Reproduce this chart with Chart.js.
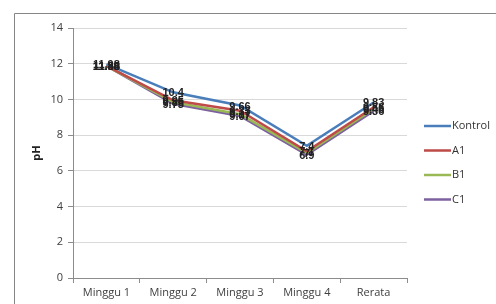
<!DOCTYPE html>
<html>
<head>
<meta charset="utf-8">
<script src="https://cdn.jsdelivr.net/npm/chart.js@4"></script>
<style>
  html, body { margin: 0; padding: 0; background: #fff; }
  #wrap { width: 496px; height: 304px; position: relative; }
</style>
</head>
<body>
<div id="wrap"><canvas id="chart" width="496" height="304"></canvas></div>
<script>
// data
const categories = ["Minggu 1", "Minggu 2", "Minggu 3", "Minggu 4", "Rerata"];
const kontrol = [11.98, 10.4, 9.66, 7.4, 9.83];
const a1 = [11.88, 9.95, 9.37, 7.1, 9.56];
const b1 = [11.88, 9.85, 9.17, 7.0, 9.46];
const c1 = [11.88, 9.75, 9.07, 6.9, 9.36];
const seriesNames = ["Kontrol", "A1", "B1", "C1"];
const colors = ["#4a7ebb", "#be4b48", "#98b954", "#7d60a0"];
const yTicks = [0, 2, 4, 6, 8, 10, 12, 14];

const FONT = "'Open Sans', 'Liberation Sans', sans-serif";

// outer frame of the chart object
const framePlugin = {
  id: "frame",
  afterDraw(chart) {
    const ctx = chart.ctx;
    ctx.save();
    ctx.strokeStyle = "#868686";
    ctx.lineWidth = 1;
    ctx.beginPath();
    ctx.moveTo(14.5, 304);
    ctx.lineTo(14.5, 13.5);
    ctx.lineTo(496, 13.5);
    ctx.stroke();
    ctx.restore();
  }
};

// value labels centred on every point
const labelPlugin = {
  id: "valueLabels",
  afterDatasetsDraw(chart) {
    const ctx = chart.ctx;
    ctx.save();
    ctx.font = "bold 11px 'Liberation Sans', sans-serif";
    ctx.fillStyle = "#222";
    ctx.textAlign = "center";
    ctx.textBaseline = "middle";
    chart.data.datasets.forEach((ds, i) => {
      chart.getDatasetMeta(i).data.forEach((pt, j) => {
        ctx.fillText(String(ds.data[j]), pt.x, pt.y + 1);
      });
    });
    ctx.restore();
  }
};

// legend on the right, line + name
const legendPlugin = {
  id: "sideLegend",
  afterDraw(chart) {
    const ctx = chart.ctx;
    ctx.save();
    ctx.font = "11px " + FONT;
    ctx.textBaseline = "middle";
    ctx.fillStyle = "#333";
    chart.data.datasets.forEach((ds, i) => {
      const y = 126 + i * 24.5;
      ctx.strokeStyle = ds.borderColor;
      ctx.lineWidth = 2.5;
      ctx.beginPath();
      ctx.moveTo(424, y);
      ctx.lineTo(451, y);
      ctx.stroke();
      ctx.fillText(ds.label, 452, y);
    });
    ctx.restore();
  }
};

const seriesData = [kontrol, a1, b1, c1];

new Chart(document.getElementById("chart"), {
  type: "line",
  data: {
    labels: categories,
    datasets: seriesData.map((d, i) => ({
      label: seriesNames[i],
      data: d,
      borderColor: colors[i],
      backgroundColor: colors[i],
      borderWidth: 2.5,
      pointRadius: 0,
      tension: 0
    }))
  },
  options: {
    responsive: false,
    animation: false,
    layout: { padding: { left: 30, top: 28, right: 89, bottom: 0 } },
    plugins: { legend: { display: false }, tooltip: { enabled: false } },
    scales: {
      x: {
        offset: true,
        grid: { offset: true, drawOnChartArea: false, drawTicks: true, tickLength: 5, color: "#8c8c8c" },
        border: { color: "#8c8c8c" },
        ticks: { color: "#404040", font: { family: FONT, size: 11 }, padding: 3, maxRotation: 0 },
        afterFit: s => { s.height = 26; }
      },
      y: {
        min: 0,
        max: 14,
        afterBuildTicks: s => { s.ticks = yTicks.map(v => ({ value: v })); },
        grid: { color: "#d9d9d9", tickLength: 5, tickColor: "#8c8c8c" },
        border: { color: "#8c8c8c" },
        ticks: { color: "#404040", font: { family: FONT, size: 11 }, padding: 5 },
        title: { display: true, text: "pH", color: "#222", font: { family: FONT, size: 11, weight: "bold" }, padding: 0 },
        afterFit: s => { s.width = 43; }
      }
    }
  },
  plugins: [framePlugin, labelPlugin, legendPlugin]
});
</script>
</body>
</html>
